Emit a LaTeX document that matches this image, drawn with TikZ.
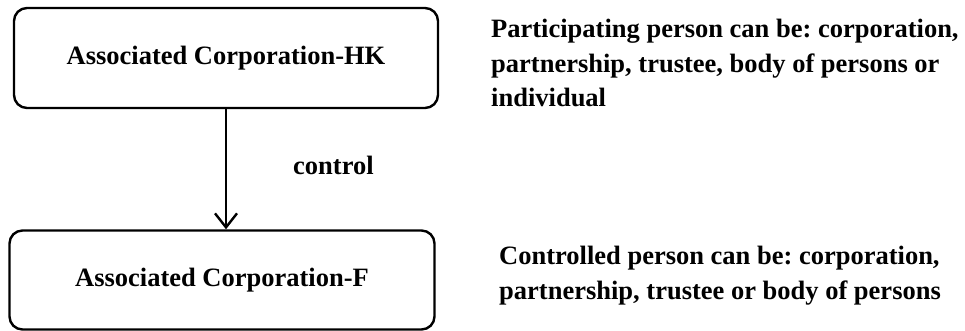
\documentclass[tikz,border=0pt]{standalone}
\usepackage{fontspec}
\setmainfont{Liberation Serif}
\frenchspacing
\usetikzlibrary{arrows.meta,positioning}
\tikzset{corpbox/.style={draw,line width=2.4pt,rounded corners=13pt,inner sep=0pt},
         note/.style={inner sep=0pt,align=left}}

\begin{document}
\begin{tikzpicture}[x=1pt,y=-1pt,font=\fontsize{26.5}{34.5}\selectfont\bfseries]
                    \useasboundingbox (0,0) rectangle (965,331);
                    \node [corpbox,minimum width=424pt,minimum height=100pt] (hk) at (226,58) {Associated Corporation-HK};
                    \node [corpbox,minimum width=425pt,minimum height=99pt] (f) at (222,280) {Associated Corporation-F};
                    \draw [line width=2.4pt,-{Straight Barb[length=14pt,width=22pt,line width=2.4pt]}] (hk.south) -- (hk.south |- f.north);
                    \node [note,anchor=base west] (ctl) at (293,175) {control};
                    \node [note,anchor=north west] (pp) at (491,19) {Participating person can be: corporation,\\partnership, trustee, body of persons or\\individual};
                    \node [note,anchor=north west] (cp) at (499,246) {Controlled person can be: corporation,\\partnership, trustee or body of persons};
                \end{tikzpicture}
\end{document}
